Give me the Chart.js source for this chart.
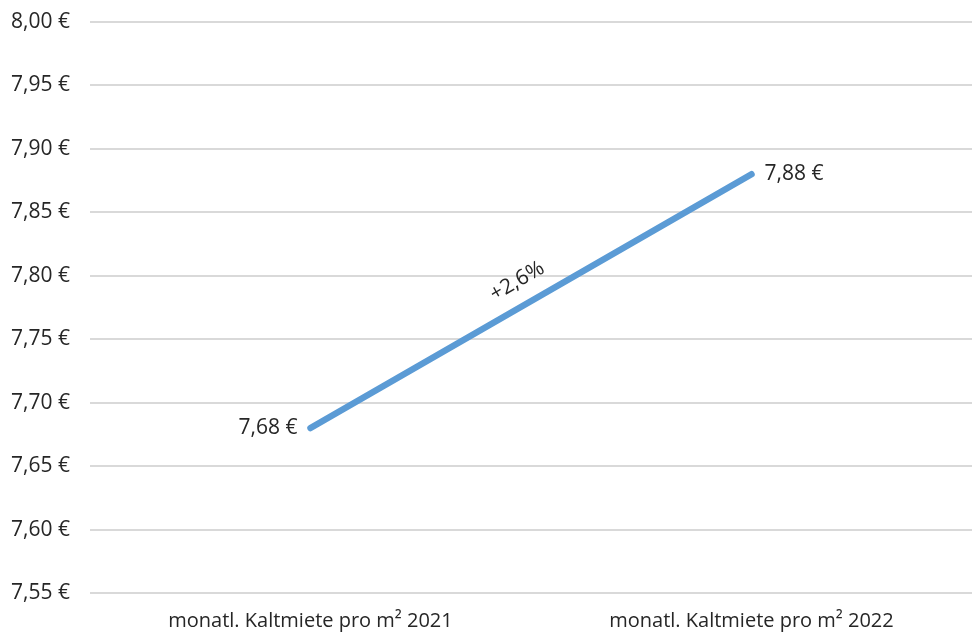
<!DOCTYPE html>
<html>
<head>
<meta charset="utf-8">
<script src="https://cdn.jsdelivr.net/npm/chart.js"></script>
<style>
  html, body { margin: 0; padding: 0; background: #fff; }
  #wrap { width: 972px; height: 633px; }
</style>
</head>
<body>
<div id="wrap"><canvas id="chart"></canvas></div>
<script>
// Daten
const kategorien = ['monatl. Kaltmiete pro m² 2021', 'monatl. Kaltmiete pro m² 2022'];
const miete = [7.68, 7.88];
const yMin = 7.55;
const yMax = 8.00;
const yStep = 0.05;

const FONT = '"Open Sans", "Noto Sans", sans-serif';
const TEXT = '#262626';

function euro(v) {
  return v.toFixed(2).replace('.', ',') + ' €';
}

// Beschriftungen an den Punkten und Veränderung in Prozent entlang der Linie
const beschriftung = {
  id: 'beschriftung',
  afterDatasetsDraw(chart) {
    const ctx = chart.ctx;
    const pts = chart.getDatasetMeta(0).data;
    ctx.save();
    ctx.font = '21px ' + FONT;
    ctx.fillStyle = TEXT;
    ctx.textBaseline = 'middle';

    ctx.textAlign = 'right';
    ctx.fillText(euro(miete[0]), pts[0].x - 13, pts[0].y);
    ctx.textAlign = 'left';
    ctx.fillText(euro(miete[1]), pts[1].x + 13, pts[1].y);

    const pct = (miete[1] - miete[0]) / miete[0] * 100;
    const txt = (pct >= 0 ? '+' : '') + pct.toFixed(1).replace('.', ',') + '%';
    const mx = (pts[0].x + pts[1].x) / 2;
    const my = (pts[0].y + pts[1].y) / 2;
    const ang = Math.atan2(pts[1].y - pts[0].y, pts[1].x - pts[0].x);
    ctx.translate(mx, my);
    ctx.rotate(ang);
    ctx.textAlign = 'center';
    ctx.fillText(txt, -2, -24);
    ctx.restore();
  }
};

new Chart(document.getElementById('chart'), {
  type: 'line',
  data: {
    labels: kategorien,
    datasets: [{
      data: miete,
      borderColor: '#5b9bd5',
      borderWidth: 6.5,
      borderCapStyle: 'round',
      pointRadius: 0,
      tension: 0
    }]
  },
  options: {
    responsive: true,
    maintainAspectRatio: false,
    animation: false,
    layout: { padding: { top: 22, right: 0, bottom: 0, left: 0 } },
    plugins: {
      legend: { display: false },
      tooltip: { enabled: false }
    },
    scales: {
      x: {
        offset: true,
        grid: { display: false, drawTicks: false },
        border: { display: false },
        afterFit: s => { s.height = 40; },
        ticks: {
          color: TEXT,
          font: { family: FONT, size: 20 },
          padding: 16,
          maxRotation: 0
        }
      },
      y: {
        min: yMin,
        max: yMax,
        grid: { color: '#d9d9d9', lineWidth: 2, drawTicks: false },
        border: { display: false },
        afterFit: s => { s.width = 90; s.paddingTop = 0; s.paddingBottom = 0; },
        ticks: {
          stepSize: yStep,
          color: TEXT,
          font: { family: FONT, size: 21 },
          padding: 20,
          callback: v => euro(v)
        }
      }
    }
  },
  plugins: [beschriftung]
});
</script>
</body>
</html>
